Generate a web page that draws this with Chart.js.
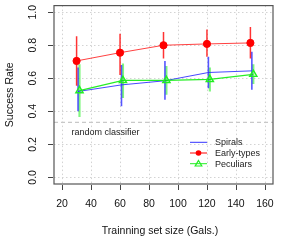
<!DOCTYPE html>
<html>
<head>
<meta charset="utf-8">
<script src="https://cdn.jsdelivr.net/npm/chart.js@4/dist/chart.umd.min.js"></script>
<style>
  html, body { margin: 0; padding: 0; background: #fff; }
  #wrap { width: 288px; height: 240px; }
</style>
</head>
<body>
<div id="wrap"><canvas id="chart" width="288" height="240"></canvas></div>
<script>
// tick labels
const xTicks = [20, 40, 60, 80, 100, 120, 140, 160];
const yTicks = [0.0, 0.2, 0.4, 0.6, 0.8, 1.0];

// training set sizes (series are slightly shifted so the bars don't overlap)
const spiralsX = [31, 61, 91, 121, 151];
const earlyX = [30, 60, 90, 120, 150];
const pecX = [32, 62, 92, 122, 152];

// success rate, mean and spread
const spiralsMean = [0.52, 0.56, 0.585, 0.635, 0.645];
const spiralsLo = [0.40, 0.43, 0.47, 0.54, 0.53];
const spiralsHi = [0.665, 0.68, 0.705, 0.73, 0.76];

const earlyMean = [0.705, 0.755, 0.80, 0.808, 0.814];
const earlyLo = [0.555, 0.62, 0.72, 0.73, 0.72];
const earlyHi = [0.855, 0.87, 0.88, 0.895, 0.91];

const pecMean = [0.525, 0.587, 0.587, 0.593, 0.624];
const pecLo = [0.365, 0.48, 0.50, 0.52, 0.565];
const pecHi = [0.685, 0.69, 0.675, 0.665, 0.685];

const randomLevel = [1 / 3, 1 / 3];
const randomX = [14.4, 165.6];

const FONT = "'Liberation Sans', Arial, sans-serif";

function points(xs, ys) {
  return xs.map((x, i) => ({ x: x, y: ys[i] }));
}

// error bars as separate segments, broken by null gaps
function bars(xs, lo, hi) {
  const out = [];
  xs.forEach((x, i) => {
    out.push({ x: x, y: lo[i] });
    out.push({ x: x, y: hi[i] });
    out.push({ x: x, y: null });
  });
  return out;
}

const legendItems = [
  { label: "Spirals", color: "#3333ff", marker: null },
  { label: "Early-types", color: "#ff0000", marker: "circle" },
  { label: "Peculiars", color: "#22ee22", marker: "triangle" },
];

const decorPlugin = {
  id: "decor",
  beforeDatasetsDraw(chart) {
    const ctx = chart.ctx;
    const a = chart.chartArea;
    const xs = chart.scales.x;
    const ys = chart.scales.y;
    ctx.save();
    ctx.strokeStyle = "#d3d3d3";
    ctx.lineWidth = 1;
    ctx.setLineDash([1.5, 2.5]);
    xTicks.forEach(v => {
      const px = Math.round(xs.getPixelForValue(v)) + 0.5;
      ctx.beginPath();
      ctx.moveTo(px, a.top);
      ctx.lineTo(px, a.bottom);
      ctx.stroke();
    });
    yTicks.forEach(v => {
      const py = Math.round(ys.getPixelForValue(v)) + 0.5;
      ctx.beginPath();
      ctx.moveTo(a.left, py);
      ctx.lineTo(a.right, py);
      ctx.stroke();
    });
    ctx.restore();
  },
  afterDraw(chart) {
    const ctx = chart.ctx;
    const a = chart.chartArea;
    const xs = chart.scales.x;
    const ys = chart.scales.y;
    ctx.save();

    // box
    ctx.strokeStyle = "#555";
    ctx.lineWidth = 1.2;
    ctx.strokeRect(a.left, a.top, a.right - a.left, a.bottom - a.top);

    // tick marks
    ctx.lineWidth = 1;
    ctx.strokeStyle = "#444";
    xTicks.forEach(v => {
      const px = Math.round(xs.getPixelForValue(v)) + 0.5;
      ctx.beginPath();
      ctx.moveTo(px, a.bottom + 1);
      ctx.lineTo(px, a.bottom + 6);
      ctx.stroke();
    });
    yTicks.forEach(v => {
      const py = Math.round(ys.getPixelForValue(v)) + 0.5;
      ctx.beginPath();
      ctx.moveTo(a.left - 1, py);
      ctx.lineTo(a.left - 6, py);
      ctx.stroke();
    });

    // tick labels
    ctx.fillStyle = "#111";
    ctx.font = "10.5px " + FONT;
    ctx.textAlign = "center";
    ctx.textBaseline = "middle";
    xTicks.forEach(v => {
      ctx.fillText(String(v), xs.getPixelForValue(v), 204.5);
    });
    yTicks.forEach(v => {
      ctx.save();
      ctx.translate(33, ys.getPixelForValue(v));
      ctx.rotate(-Math.PI / 2);
      ctx.fillText(v.toFixed(1), 0, 0);
      ctx.restore();
    });

    // axis titles
    ctx.fillText("Trainning set size (Gals.)", 160, 231.5);
    ctx.save();
    ctx.translate(10, (a.top + a.bottom) / 2);
    ctx.rotate(-Math.PI / 2);
    ctx.fillText("Success Rate", 0, 0);
    ctx.restore();

    // random classifier note
    ctx.font = "9px " + FONT;
    ctx.fillStyle = "#222";
    ctx.fillText("random classifier", 105.5, 132.5);

    // legend
    ctx.textAlign = "left";
    legendItems.forEach((it, i) => {
      const y = 142.3 + i * 10.7;
      ctx.strokeStyle = it.color;
      ctx.lineWidth = 1;
      ctx.beginPath();
      ctx.moveTo(190, y);
      ctx.lineTo(207, y);
      ctx.stroke();
      if (it.marker === "circle") {
        ctx.fillStyle = it.color;
        ctx.beginPath();
        ctx.arc(198.5, y, 2.8, 0, Math.PI * 2);
        ctx.fill();
      } else if (it.marker === "triangle") {
        ctx.lineWidth = 1.2;
        ctx.beginPath();
        ctx.moveTo(198.5, y - 3.2);
        ctx.lineTo(201.8, y + 2.3);
        ctx.lineTo(195.2, y + 2.3);
        ctx.closePath();
        ctx.stroke();
      }
      ctx.fillStyle = "#222";
      ctx.fillText(it.label, 215, y + 0.5);
    });

    ctx.restore();
  },
};

new Chart(document.getElementById("chart"), {
  type: "line",
  data: {
    datasets: [
      {
        label: "Early-types",
        data: points(earlyX, earlyMean),
        borderColor: "rgba(255,0,0,0.75)",
        borderWidth: 1,
        backgroundColor: "#ff0000",
        pointBackgroundColor: "#ff0000",
        pointBorderColor: "#ff0000",
        pointRadius: 3.6,
        pointBorderWidth: 1,
      },
      {
        label: "Peculiars",
        data: points(pecX, pecMean),
        borderColor: "rgba(0,235,0,0.85)",
        borderWidth: 1.3,
        pointStyle: "triangle",
        pointRadius: 4.2,
        pointBorderWidth: 1.4,
        pointBackgroundColor: "rgba(0,0,0,0)",
        pointBorderColor: "#22ee22",
      },
      {
        label: "Spirals",
        data: points(spiralsX, spiralsMean),
        borderColor: "rgba(40,40,255,0.85)",
        borderWidth: 1,
        pointRadius: 0,
      },
      {
        label: "Early-types bars",
        data: bars(earlyX, earlyLo, earlyHi),
        borderColor: "rgba(255,0,0,0.8)",
        borderWidth: 1.5,
        pointRadius: 0,
        spanGaps: false,
      },
      {
        label: "Spirals bars",
        data: bars(spiralsX, spiralsLo, spiralsHi),
        borderColor: "rgba(30,30,255,0.75)",
        borderWidth: 1.6,
        pointRadius: 0,
        spanGaps: false,
      },
      {
        label: "Peculiars bars",
        data: bars(pecX, pecLo, pecHi),
        borderColor: "rgba(60,240,60,0.65)",
        borderWidth: 2.2,
        pointRadius: 0,
        spanGaps: false,
      },
      {
        label: "random classifier",
        data: points(randomX, randomLevel),
        borderColor: "#c8c8c8",
        borderWidth: 1.3,
        borderDash: [4, 3],
        pointRadius: 0,
      },
    ],
  },
  options: {
    responsive: false,
    animation: false,
    events: [],
    layout: { padding: { left: 0, top: 3, right: 15, bottom: 0 } },
    plugins: {
      legend: { display: false },
      tooltip: { enabled: false },
    },
    scales: {
      x: {
        type: "linear",
        min: 14.4,
        max: 165.6,
        grid: { display: false },
        border: { display: false },
        ticks: { display: false },
        afterBuildTicks: s => { s.ticks = xTicks.map(v => ({ value: v })); },
        afterFit: s => { s.height = 56; },
      },
      y: {
        type: "linear",
        min: -0.04,
        max: 1.04,
        grid: { display: false },
        border: { display: false },
        ticks: { display: false },
        afterBuildTicks: s => { s.ticks = yTicks.map(v => ({ value: v })); },
        afterFit: s => { s.width = 54; },
      },
    },
  },
  plugins: [decorPlugin],
});
</script>
</body>
</html>
